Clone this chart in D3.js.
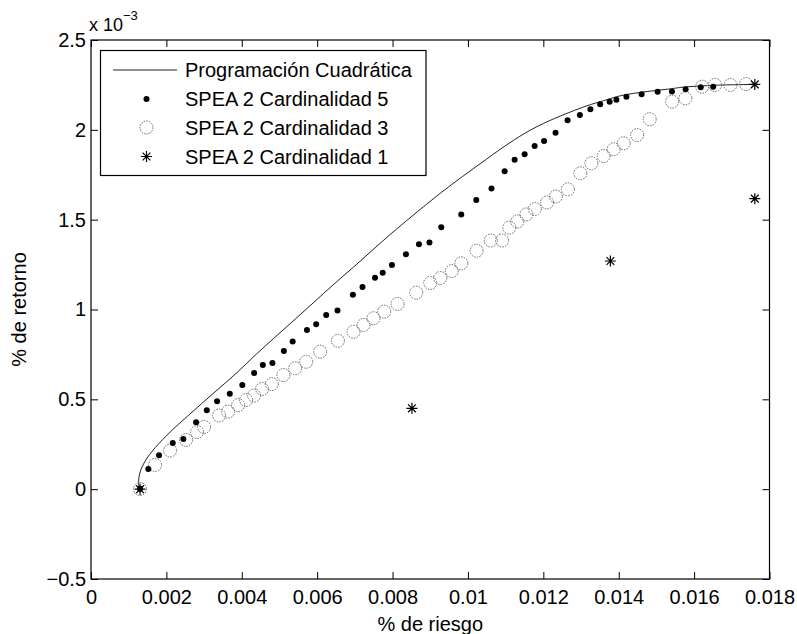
<!DOCTYPE html>
<html>
<head>
<meta charset="utf-8">
<script src="https://cdn.jsdelivr.net/npm/d3@7"></script>
<style>
  body { margin: 0; background: #fff; }
  svg { font-family: "Liberation Sans", Arial, Helvetica, sans-serif; }
</style>
</head>
<body>
<svg id="chart" width="797" height="634"></svg>
<script>
// ---------- data (x = % de riesgo, y = % de retorno in units of 1e-3) ----------
const xTickValues = [0, 0.002, 0.004, 0.006, 0.008, 0.01, 0.012, 0.014, 0.016, 0.018];
const xTickLabels = ["0", "0.002", "0.004", "0.006", "0.008", "0.01", "0.012", "0.014", "0.016", "0.018"];
const yTickValues = [-0.5, 0, 0.5, 1, 1.5, 2, 2.5];
const yTickLabels = ["\u22120.5", "0", "0.5", "1", "1.5", "2", "2.5"];

const seriesNames = ["Programación Cuadrática", "SPEA 2 Cardinalidad 5", "SPEA 2 Cardinalidad 3", "SPEA 2 Cardinalidad 1"];

// Programación Cuadrática (frontier line)
const qpRisk = [0.001282, 0.001264, 0.001288, 0.001367, 0.001487, 0.001619, 0.002018, 0.002628, 0.003239, 0.003868,
  0.004399, 0.005283, 0.005727, 0.006611, 0.006964, 0.007938, 0.008822, 0.009266, 0.010460, 0.010858,
  0.012008, 0.012629, 0.013513, 0.014398, 0.015284, 0.016168, 0.017052, 0.017602];
const qpReturn = [0.000, 0.040, 0.084, 0.129, 0.173, 0.210, 0.301, 0.419, 0.532, 0.648,
  0.754, 0.921, 1.005, 1.172, 1.236, 1.418, 1.572, 1.647, 1.832, 1.892,
  2.036, 2.092, 2.157, 2.203, 2.226, 2.244, 2.251, 2.253];

// SPEA 2 Cardinalidad 5 (filled dots)
const c5Risk = [0.001301, 0.001521, 0.001805, 0.002169, 0.002450, 0.002788, 0.003072, 0.003345, 0.003682, 0.004014,
  0.004327, 0.004558, 0.004813, 0.005116, 0.005350, 0.005729, 0.005974, 0.006239, 0.006539, 0.006948,
  0.007203, 0.007535, 0.007739, 0.007983, 0.008355, 0.008700, 0.008979, 0.009292, 0.009823, 0.010221,
  0.010625, 0.010973, 0.011238, 0.011504, 0.011769, 0.012019, 0.012324, 0.012643, 0.012969, 0.013248,
  0.013508, 0.013758, 0.013938, 0.014204, 0.014607, 0.015032, 0.015412, 0.015775, 0.016176, 0.016506];
const c5Return = [0.002, 0.112, 0.189, 0.257, 0.279, 0.372, 0.439, 0.489, 0.531, 0.580,
  0.647, 0.691, 0.702, 0.769, 0.822, 0.886, 0.918, 0.970, 0.994, 1.082,
  1.125, 1.177, 1.205, 1.247, 1.308, 1.363, 1.373, 1.458, 1.529, 1.610,
  1.673, 1.769, 1.833, 1.864, 1.910, 1.938, 1.984, 2.054, 2.083, 2.114,
  2.142, 2.157, 2.168, 2.184, 2.198, 2.212, 2.214, 2.226, 2.237, 2.240];

// SPEA 2 Cardinalidad 3 (open circles)
const c3Risk = [0.001301, 0.001699, 0.002097, 0.002522, 0.002814, 0.003000, 0.003398, 0.003637, 0.003903, 0.004115,
  0.004327, 0.004540, 0.004797, 0.005105, 0.005416, 0.005708, 0.006080, 0.006550, 0.006964, 0.007229,
  0.007495, 0.007779, 0.008132, 0.008628, 0.009000, 0.009266, 0.009571, 0.009823, 0.010229, 0.010606,
  0.010904, 0.011098, 0.011310, 0.011549, 0.011774, 0.012098, 0.012332, 0.012651, 0.012982, 0.013274,
  0.013601, 0.013866, 0.014132, 0.014488, 0.014822, 0.015417, 0.015770, 0.016214, 0.016553, 0.016965, 0.017376];
const c3Return = [0.001, 0.135, 0.215, 0.274, 0.318, 0.346, 0.410, 0.432, 0.468, 0.496,
  0.521, 0.558, 0.585, 0.635, 0.673, 0.709, 0.765, 0.826, 0.876, 0.914,
  0.951, 0.988, 1.031, 1.094, 1.148, 1.175, 1.214, 1.257, 1.327, 1.384,
  1.384, 1.456, 1.490, 1.529, 1.559, 1.596, 1.629, 1.669, 1.758, 1.814,
  1.854, 1.892, 1.925, 1.971, 2.059, 2.157, 2.176, 2.240, 2.250, 2.250, 2.255];

// SPEA 2 Cardinalidad 1 (asterisks)
const c1Risk = [0.001301, 0.008514, 0.013779, 0.017610, 0.017610];
const c1Return = [0.000, 0.450, 1.270, 1.617, 2.253];

// ---------- layout ----------
const svg = d3.select("#chart");
const plot = { left: 91, top: 40, right: 769.5, bottom: 579 };
const x = d3.scaleLinear().domain([0, 0.018]).range([plot.left, plot.right]);
const y = d3.scaleLinear().domain([-0.5, 2.5]).range([plot.bottom, plot.top]);
const FS = 20;
const tickLen = 7;

// frame
svg.append("rect")
  .attr("x", plot.left).attr("y", plot.top)
  .attr("width", plot.right - plot.left).attr("height", plot.bottom - plot.top)
  .attr("fill", "none").attr("stroke", "#000").attr("stroke-width", 1.2);

// axes
const xAxis = svg.append("g").attr("transform", `translate(0,${plot.bottom})`)
  .call(d3.axisBottom(x).tickValues(xTickValues).tickFormat((d, i) => xTickLabels[i])
    .tickSizeInner(-tickLen).tickSizeOuter(0).tickPadding(11));
const yAxis = svg.append("g").attr("transform", `translate(${plot.left},0)`)
  .call(d3.axisLeft(y).tickValues(yTickValues).tickFormat((d, i) => yTickLabels[i])
    .tickSizeInner(-tickLen).tickSizeOuter(0).tickPadding(5));
const xAxisTop = svg.append("g").attr("transform", `translate(0,${plot.top})`)
  .call(d3.axisTop(x).tickValues(xTickValues).tickFormat("").tickSizeInner(-tickLen).tickSizeOuter(0));
const yAxisRight = svg.append("g").attr("transform", `translate(${plot.right},0)`)
  .call(d3.axisRight(y).tickValues(yTickValues).tickFormat("").tickSizeInner(-tickLen).tickSizeOuter(0));
[xAxis, yAxis, xAxisTop, yAxisRight].forEach(g => {
  g.select(".domain").remove();
  g.selectAll("line").attr("stroke", "#000").attr("stroke-width", 1);
  g.selectAll("text").attr("fill", "#000").style("font-size", FS + "px")
    .style("font-family", "'Liberation Sans', Arial, sans-serif");
});

// exponent
const expo = svg.append("text").attr("x", 89).attr("y", 31).attr("fill", "#000")
  .style("font-size", "18px");
expo.append("tspan").text("x 10");
expo.append("tspan").attr("dy", -11).style("font-size", "13px").text("\u22123");

// axis labels
svg.append("text").attr("x", (plot.left + plot.right) / 2).attr("y", 631)
  .attr("text-anchor", "middle").attr("fill", "#000").style("font-size", FS + "px").text("% de riesgo");
svg.append("text").attr("transform", `translate(26,${(plot.top + plot.bottom) / 2}) rotate(-90)`)
  .attr("text-anchor", "middle").attr("fill", "#000").style("font-size", FS + "px").text("% de retorno");

// ---------- marks ----------
const zip = (a, b) => a.map((v, i) => [v, b[i]]);

const g = svg.append("g");
g.append("path").datum(zip(qpRisk, qpReturn))
  .attr("fill", "none").attr("stroke", "#222").attr("stroke-width", 1)
  .attr("d", d3.line().x(d => x(d[0])).y(d => y(d[1])).curve(d3.curveMonotoneY));

g.selectAll("circle.c3").data(zip(c3Risk, c3Return)).join("circle")
  .attr("class", "c3").attr("cx", d => x(d[0])).attr("cy", d => y(d[1])).attr("r", 6.5)
  .attr("fill", "none").attr("stroke", "#666").attr("stroke-width", 1).attr("stroke-dasharray", "1.5,1.2");

g.selectAll("circle.c5").data(zip(c5Risk, c5Return)).join("circle")
  .attr("class", "c5").attr("cx", d => x(d[0])).attr("cy", d => y(d[1])).attr("r", 3)
  .attr("fill", "#000");

const starPath = (r) => {
  let p = "";
  for (let k = 0; k < 4; k++) {
    const a = k * Math.PI / 4;
    p += `M${-r * Math.cos(a)},${-r * Math.sin(a)}L${r * Math.cos(a)},${r * Math.sin(a)}`;
  }
  return p;
};
g.selectAll("path.c1").data(zip(c1Risk, c1Return)).join("path")
  .attr("class", "c1").attr("transform", d => `translate(${x(d[0])},${y(d[1])})`)
  .attr("d", starPath(5.5)).attr("stroke", "#000").attr("stroke-width", 1.2).attr("fill", "none");

// ---------- legend ----------
const lg = svg.append("g");
lg.append("rect").attr("x", 100.5).attr("y", 50.5).attr("width", 325.5).attr("height", 125)
  .attr("fill", "#fff").attr("stroke", "#000").attr("stroke-width", 1.2);
const rowY = [70, 99, 127.5, 156.5];
lg.append("line").attr("x1", 113).attr("x2", 177).attr("y1", rowY[0]).attr("y2", rowY[0])
  .attr("stroke", "#222").attr("stroke-width", 1);
lg.append("circle").attr("cx", 146.5).attr("cy", rowY[1]).attr("r", 3).attr("fill", "#000");
lg.append("circle").attr("cx", 146.5).attr("cy", rowY[2]).attr("r", 6.5).attr("fill", "none")
  .attr("stroke", "#666").attr("stroke-width", 1).attr("stroke-dasharray", "1.5,1.2");
lg.append("path").attr("transform", `translate(146.5,${rowY[3]})`).attr("d", starPath(5.5))
  .attr("stroke", "#000").attr("stroke-width", 1.2);
lg.selectAll("text.lt").data(seriesNames).join("text").attr("class", "lt")
  .attr("x", 185).attr("y", (d, i) => rowY[i]).attr("dy", "0.35em").attr("fill", "#000")
  .style("font-size", FS + "px").text(d => d);
</script>
</body>
</html>
